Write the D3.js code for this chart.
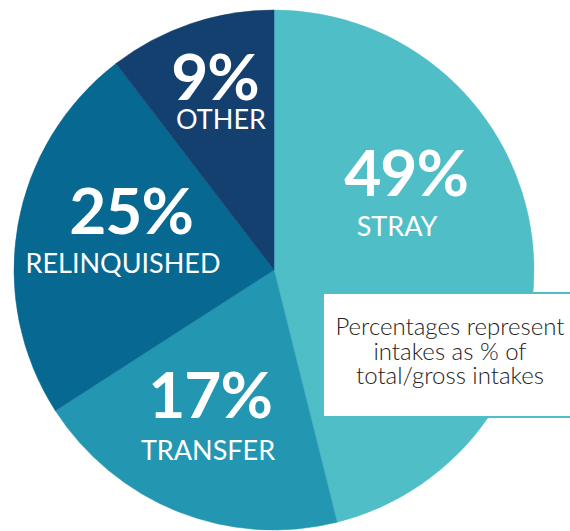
<!DOCTYPE html>
<html>
<head>
<meta charset="utf-8">
<script src="https://cdn.jsdelivr.net/npm/d3@7"></script>
<style>
  html, body { margin: 0; padding: 0; background: #fff; }
  svg { display: block; }
  .pct { font-family: Lato, "Open Sans", sans-serif; font-weight: 700; fill: #fff; }
  .cat { font-family: Lato, "Open Sans", sans-serif; font-weight: 400; fill: #fff; }
  .note { font-family: Lato, "Open Sans", sans-serif; font-weight: 300; fill: #222; }
</style>
</head>
<body>
<div class="pie"></div>
<script>
/// Chart data (slice shares as drawn, printed percentages)
var categories = ["STRAY", "TRANSFER", "RELINQUISHED", "OTHER"];
var shares = [46.1, 19.8, 23.7, 10.4];
var printed = ["49%", "17%", "25%", "9%"];
var colors = ["#50bec6", "#2396b2", "#076892", "#144070"];
var noteLines = ["Percentages represent", "intakes as % of", "total/gross intakes"];

/// SVG wrapper dimensions
var svgWidth = 570;
var svgHeight = 531;
var cx = 274;
var cy = 270;
var radius = 260;

/// label baselines, offset from pie centre (layout only)
var pctAt = [[132, -74], [-64, 148], [-143, -36], [-59, -170]];
var catAt = [[123, -34], [-66, 190], [-151, 3], [-53, -141]];

var svg = d3.select(".pie")
    .append("svg")
    .attr("width", svgWidth)
    .attr("height", svgHeight);

var pieGroup = svg.append("g")
    .attr("transform", `translate(${cx}, ${cy})`);

var rows = categories.map(function(c, i) {
    return { name: c, value: shares[i], label: printed[i], color: colors[i] };
});

var pie = d3.pie()
    .sort(null)
    .value(d => d.value);

var arc = d3.arc()
    .innerRadius(0)
    .outerRadius(radius);

pieGroup.selectAll("path")
    .data(pie(rows))
    .enter()
    .append("path")
    .attr("d", arc)
    .attr("fill", d => d.data.color)
    .attr("stroke", d => d.data.color)
    .attr("stroke-width", 0.5);

/// big percentages
pieGroup.selectAll(".pct")
    .data(rows)
    .enter()
    .append("text")
    .attr("class", "pct")
    .attr("text-anchor", "middle")
    .attr("x", (d, i) => pctAt[i][0])
    .attr("y", (d, i) => pctAt[i][1])
    .style("font-size", "64px")
    .style("letter-spacing", "-1px")
    .text(d => d.label);

/// category names
pieGroup.selectAll(".cat")
    .data(rows)
    .enter()
    .append("text")
    .attr("class", "cat")
    .attr("text-anchor", "middle")
    .attr("x", (d, i) => catAt[i][0])
    .attr("y", (d, i) => catAt[i][1])
    .style("font-size", "27px")
    .text(d => d.name);

/// note box
svg.append("rect")
    .attr("x", 323)
    .attr("y", 293)
    .attr("width", 260)
    .attr("height", 124)
    .attr("fill", "#fff")
    .attr("stroke", colors[0])
    .attr("stroke-width", 2);

svg.append("g")
    .selectAll("text")
    .data(noteLines)
    .enter()
    .append("text")
    .attr("class", "note")
    .attr("x", 450)
    .attr("y", (d, i) => 335 + i * 24.5)
    .attr("text-anchor", "middle")
    .style("font-size", "24px")
    .text(d => d);
</script>
</body>
</html>
